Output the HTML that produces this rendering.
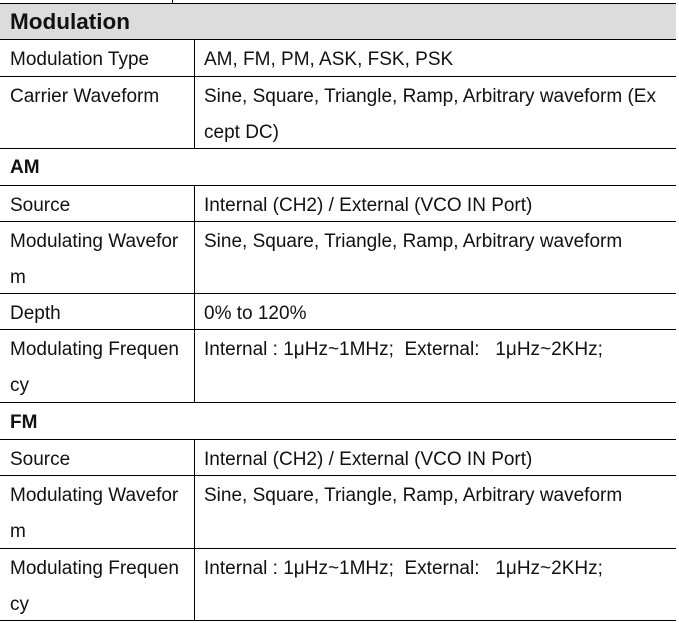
<!DOCTYPE html>
<html><head><style>
body{margin:0;width:679px;height:622px;background:#fff;position:relative;font-family:"Liberation Sans",Arial,sans-serif;color:#111;overflow:hidden}
.h{position:absolute;left:0;width:676px;height:1px;background:#000}
.v{position:absolute;width:1px;background:#000}
.t{position:absolute;font-size:19px;line-height:36px;white-space:nowrap;margin-top:2px}
.b{font-weight:bold}
</style></head><body>
<div style="position:absolute;left:0;top:3px;width:676px;height:36px;background:#dcdcdc"></div>
<div class="v" style="left:172px;top:0;height:3px"></div>
<div class="h" style="top:3px"></div>
<div class="h" style="top:39px"></div>
<div class="h" style="top:76px"></div>
<div class="h" style="top:148px"></div>
<div class="h" style="top:185px"></div>
<div class="h" style="top:221px"></div>
<div class="h" style="top:293px"></div>
<div class="h" style="top:329px"></div>
<div class="h" style="top:402px"></div>
<div class="h" style="top:439px"></div>
<div class="h" style="top:475px"></div>
<div class="h" style="top:548px"></div>
<div class="h" style="top:620px"></div>
<div class="v" style="left:194px;top:40px;height:108px"></div>
<div class="v" style="left:194px;top:186px;height:216px"></div>
<div class="v" style="left:194px;top:440px;height:181px"></div>
<div class="t b" style="left:10px;top:2px;font-size:22.5px">Modulation</div>
<div class="t" style="left:10px;top:40px">Modulation Type</div>
<div class="t" style="left:204px;top:40px">AM, FM, PM, ASK, FSK, PSK</div>
<div class="t" style="left:10px;top:77px">Carrier Waveform</div>
<div class="t" style="left:204px;top:77px">Sine, Square, Triangle, Ramp, Arbitrary waveform (Ex<br>cept DC)</div>
<div class="t b" style="left:10px;top:148px">AM</div>
<div class="t" style="left:10px;top:186px">Source</div>
<div class="t" style="left:204px;top:186px">Internal (CH2) / External (VCO IN Port)</div>
<div class="t" style="left:10px;top:222px">Modulating Wavefor<br>m</div>
<div class="t" style="left:204px;top:222px">Sine, Square, Triangle, Ramp, Arbitrary waveform</div>
<div class="t" style="left:10px;top:294px">Depth</div>
<div class="t" style="left:204px;top:294px">0% to 120%</div>
<div class="t" style="left:10px;top:330px">Modulating Frequen<br>cy</div>
<div class="t" style="left:204px;top:330px">Internal : 1μHz~1MHz;&nbsp; External:&nbsp;&nbsp; 1μHz~2KHz;</div>
<div class="t b" style="left:10px;top:403px">FM</div>
<div class="t" style="left:10px;top:440px">Source</div>
<div class="t" style="left:204px;top:440px">Internal (CH2) / External (VCO IN Port)</div>
<div class="t" style="left:10px;top:476px">Modulating Wavefor<br>m</div>
<div class="t" style="left:204px;top:476px">Sine, Square, Triangle, Ramp, Arbitrary waveform</div>
<div class="t" style="left:10px;top:549px">Modulating Frequen<br>cy</div>
<div class="t" style="left:204px;top:549px">Internal : 1μHz~1MHz;&nbsp; External:&nbsp;&nbsp; 1μHz~2KHz;</div>
</body></html>
